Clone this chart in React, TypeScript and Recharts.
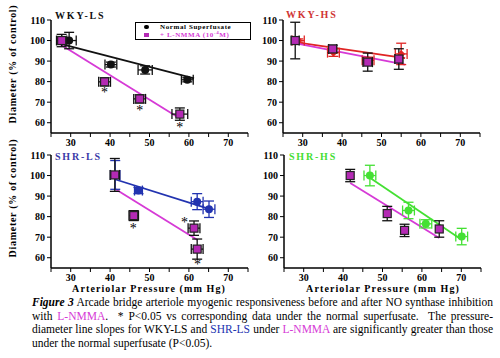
import { ScatterChart, Scatter, XAxis, YAxis, ErrorBar, ReferenceLine } from 'recharts';

// x = arteriolar pressure (mm Hg), y = diameter (% of control), ex/ey = error half-widths
const wkyLsNormal = [
  { x: 29.6, y: 100, ex: 1.8, ey: 4 },
  { x: 40.2, y: 88.3, ex: 1.5, ey: 1.2 },
  { x: 48.9, y: 85.7, ex: 1.8, ey: 2 },
  { x: 59.6, y: 80.9, ex: 1.5, ey: 1 },
];
const wkyLsLnmma = [
  { x: 27.7, y: 100, ex: 1.3, ey: 3 },
  { x: 38.6, y: 79.9, ex: 1.5, ey: 2 },
  { x: 47.5, y: 71.6, ex: 1.5, ey: 2 },
  { x: 57.7, y: 64.2, ex: 2, ey: 3 },
];
const wkyLsStars = [
  { x: 38.6, y: 75.7 },
  { x: 47.5, y: 67.1 },
  { x: 57.7, y: 58.7 },
];
const wkyLsNormalFit = [{ x: 27.7, y: 98.2 }, { x: 61.3, y: 81.6 }];
const wkyLsLnmmaFit = [{ x: 26.6, y: 99 }, { x: 56.9, y: 63 }];

const wkyHsNormal = [
  { x: 28.9, y: 100, ex: 1.5, ey: 0.8 },
  { x: 37.8, y: 94.1, ex: 1.5, ey: 1.8 },
  { x: 46.6, y: 90.4, ex: 1.5, ey: 1.5 },
  { x: 55, y: 93.5, ex: 1.5, ey: 5.2 },
];
const wkyHsLnmma = [
  { x: 28.1, y: 100, ex: 1, ey: 8.9 },
  { x: 37.6, y: 95.9, ex: 1, ey: 1.8 },
  { x: 46.5, y: 89.5, ex: 1.2, ey: 4.4 },
  { x: 54.4, y: 91, ex: 1, ey: 5 },
];
const wkyHsNormalFit = [{ x: 28, y: 99.2 }, { x: 56, y: 91.4 }];
const wkyHsLnmmaFit = [{ x: 28, y: 98.7 }, { x: 56, y: 88.3 }];

const shrLsNormal = [
  { x: 41.3, y: 100.3, ex: 1.2, ey: 7 },
  { x: 47.2, y: 92.7, ex: 1, ey: 1.5 },
  { x: 62.1, y: 87.3, ex: 1.5, ey: 3.9 },
  { x: 65.1, y: 83.6, ex: 1.5, ey: 4 },
];
const shrLsLnmma = [
  { x: 41.2, y: 100.3, ex: 1.2, ey: 8 },
  { x: 46, y: 80.5, ex: 1.2, ey: 2.4 },
  { x: 61.3, y: 74.4, ex: 1.5, ey: 3.5 },
  { x: 62.1, y: 64.2, ex: 1.5, ey: 4.9 },
];
const shrLsStars = [
  { x: 45.9, y: 75.2 },
  { x: 58.9, y: 78.4 },
  { x: 62.2, y: 57.7 },
];
const shrLsNormalFit = [{ x: 41.2, y: 98.2 }, { x: 65.1, y: 83.8 }];
const shrLsLnmmaFit = [{ x: 41.4, y: 93.3 }, { x: 62.1, y: 68.7 }];

const shrHsNormal = [
  { x: 46.8, y: 100, ex: 1.5, ey: 5 },
  { x: 56.6, y: 83, ex: 1.5, ey: 4 },
  { x: 61, y: 76.5, ex: 1.5, ey: 2 },
  { x: 70.1, y: 70.3, ex: 1.5, ey: 4 },
];
const shrHsLnmma = [
  { x: 41.8, y: 100, ex: 0, ey: 3 },
  { x: 51.2, y: 81.5, ex: 0, ey: 3.5 },
  { x: 55.6, y: 73.3, ex: 0, ey: 3 },
  { x: 64.4, y: 74, ex: 0, ey: 4 },
];
const shrHsNormalFit = [{ x: 46.8, y: 98.9 }, { x: 70.1, y: 68.8 }];
const shrHsLnmmaFit = [{ x: 41.8, y: 96.4 }, { x: 64.4, y: 69.6 }];

const xTicks = [25, 30, 35, 40, 45, 50, 55, 60, 65, 70, 75];
const yTicks = [55, 60, 65, 70, 75, 80, 85, 90, 95, 100, 105, 110];

const serif = '"Liberation Serif", "Times New Roman", serif';
const MAGENTA = '#d63ad6';
const SQUARE = '#b42ab4';
const RED = '#e02424';
const BLUE = '#2233b0';
const GREEN = '#44e033';

const circle = (color: string, r = 4) => (p: any) => (
  <circle cx={p.cx} cy={p.cy} r={r} fill={color} />
);
const diamond = (color: string) => (p: any) => (
  <path d={`M${p.cx},${p.cy - 4}L${p.cx + 4},${p.cy}L${p.cx},${p.cy + 4}L${p.cx - 4},${p.cy}Z`} fill={color} />
);
const square = (p: any) => (
  <rect x={p.cx - 4} y={p.cy - 4} width={8} height={8} fill={SQUARE} stroke="#222" strokeWidth={1.2} />
);
const star = (p: any) => (
  <text x={p.cx} y={p.cy + 7} textAnchor="middle" fontSize={14} fontFamily={serif} fill="#000">*</text>
);

const tickStyle = { fontSize: 10, fontWeight: 'bold', fill: '#000', fontFamily: serif };

function Panel({ left, top, normal, normalColor, normalShape, lnmma, normalFit, lnmmaFit, stars }: any) {
  const fmt = (v: number) => (v % 10 === 0 ? String(v) : '');
  return (
    <div style={{ position: 'absolute', left, top }}>
      <ScatterChart width={250} height={160} margin={{ top: 20, right: 2, left: 0, bottom: 7 }}>
        <XAxis
          type="number" dataKey="x" domain={[25, 75]} ticks={xTicks} tickFormatter={fmt}
          allowDataOverflow height={20} tick={tickStyle} tickSize={4}
          axisLine={{ stroke: '#000', strokeWidth: 1.5 }} tickLine={{ stroke: '#000' }}
        />
        <YAxis
          type="number" dataKey="y" domain={[55, 110]} ticks={yTicks} tickFormatter={fmt}
          allowDataOverflow width={51} tick={tickStyle} tickSize={4}
          axisLine={{ stroke: '#000', strokeWidth: 1.5 }} tickLine={{ stroke: '#000' }}
        />
        <ReferenceLine segment={normalFit} stroke={normalColor} strokeWidth={1.8} ifOverflow="visible" />
        <ReferenceLine segment={lnmmaFit} stroke={MAGENTA} strokeWidth={1.8} ifOverflow="visible" />
        <Scatter data={normal} shape={normalShape} isAnimationActive={false}>
          <ErrorBar dataKey="ey" direction="y" width={5} stroke={normalColor} strokeWidth={1.3} />
          <ErrorBar dataKey="ex" direction="x" width={5} stroke={normalColor} strokeWidth={1.3} />
        </Scatter>
        <Scatter data={lnmma} shape={square} isAnimationActive={false}>
          <ErrorBar dataKey="ey" direction="y" width={5} stroke="#111" strokeWidth={1.3} />
          <ErrorBar dataKey="ex" direction="x" width={5} stroke="#111" strokeWidth={1.3} />
        </Scatter>
        {stars && <Scatter data={stars} shape={star} isAnimationActive={false} />}
      </ScatterChart>
    </div>
  );
}

const titleStyle = (color: string, left: number, top: number): any => ({
  position: 'absolute', left, top, color, fontFamily: serif, fontWeight: 'bold',
  fontSize: 10, letterSpacing: 1.8, lineHeight: '10px', whiteSpace: 'nowrap',
});
const yTitle = (top: number): any => ({
  position: 'absolute', left: 12, top, transform: 'translate(-50%, -50%) rotate(-90deg)',
  fontFamily: serif, fontWeight: 'bold', fontSize: 10, letterSpacing: 0.7, whiteSpace: 'nowrap',
});
const xTitle = (left: number): any => ({
  position: 'absolute', left, top: 289, transform: 'translate(-50%, -50%)',
  fontFamily: serif, fontWeight: 'bold', fontSize: 10, letterSpacing: 1.1, lineHeight: '10px', whiteSpace: 'nowrap',
});
const capLine: any = {
  textAlign: 'justify', textAlignLast: 'justify', whiteSpace: 'nowrap', height: 13.7, lineHeight: '13.7px',
};

export default function App() {
  return (
    <div style={{ position: 'absolute', left: 0, top: 0, width: 500, height: 358, background: '#fff', overflow: 'hidden' }}>
      <Panel left={0} top={0} normal={wkyLsNormal} normalColor="#111" normalShape={circle('#111')}
        lnmma={wkyLsLnmma} normalFit={wkyLsNormalFit} lnmmaFit={wkyLsLnmmaFit} stars={wkyLsStars} />
      <Panel left={232} top={0} normal={wkyHsNormal} normalColor={RED} normalShape={diamond(RED)}
        lnmma={wkyHsLnmma} normalFit={wkyHsNormalFit} lnmmaFit={wkyHsLnmmaFit} />
      <Panel left={0} top={135} normal={shrLsNormal} normalColor={BLUE} normalShape={circle(BLUE)}
        lnmma={shrLsLnmma} normalFit={shrLsNormalFit} lnmmaFit={shrLsLnmmaFit} stars={shrLsStars} />
      <Panel left={233} top={135} normal={shrHsNormal} normalColor={GREEN} normalShape={circle(GREEN)}
        lnmma={shrHsLnmma} normalFit={shrHsNormalFit} lnmmaFit={shrHsLnmmaFit} />

      <div style={titleStyle('#111', 55, 11)}>WKY-LS</div>
      <div style={titleStyle('#d03434', 286, 10)}>WKY-HS</div>
      <div style={titleStyle('#3a3aa8', 55, 152)}>SHR-LS</div>
      <div style={titleStyle('#44dd33', 289, 152)}>SHR-HS</div>

      <div style={{ position: 'absolute', left: 135, top: 22, width: 114, height: 16, border: '1px solid #000',
        fontFamily: serif, fontWeight: 'bold', fontSize: 7, lineHeight: '8px', letterSpacing: 0.6, background: '#fff' }}>
        <div style={{ position: 'relative', paddingLeft: 24, color: '#000', height: 8 }}>
          <span style={{ position: 'absolute', left: 8, top: 2, width: 5, height: 4, borderRadius: 3, background: '#000' }} />
          Normal Superfusate
        </div>
        <div style={{ position: 'relative', paddingLeft: 24, color: MAGENTA, height: 8 }}>
          <span style={{ position: 'absolute', left: 8, top: 2, width: 5, height: 4, background: SQUARE }} />
          + L-NMMA (10<sup style={{ fontSize: 5, lineHeight: 0 }}>-4</sup>M)
        </div>
      </div>

      <div style={yTitle(64)}>Diameter (% of control)</div>
      <div style={yTitle(198)}>Diameter (% of control)</div>
      <div style={xTitle(149)}>Arteriolar Pressure (mm Hg)</div>
      <div style={xTitle(383)}>Arteriolar Pressure (mm Hg)</div>

      <div style={{ position: 'absolute', left: 32, top: 296, width: 461, fontFamily: serif, fontSize: 11.5, color: '#000' }}>
        <div style={capLine}><b><i>Figure 3</i></b> Arcade bridge arteriole myogenic responsiveness before and after NO synthase inhibition</div>
        <div style={capLine}>with <span style={{ color: MAGENTA }}>L-NMMA</span>.&nbsp; * P&lt;0.05 vs corresponding data under the normal superfusate.&nbsp; The pressure-</div>
        <div style={capLine}>diameter line slopes for WKY-LS and <span style={{ color: BLUE }}>SHR-LS</span> under <span style={{ color: MAGENTA }}>L-NMMA</span> are significantly greater than those</div>
        <div style={{ ...capLine, textAlign: 'left', textAlignLast: 'left' }}>under the normal superfusate (P&lt;0.05).</div>
      </div>
    </div>
  );
}
